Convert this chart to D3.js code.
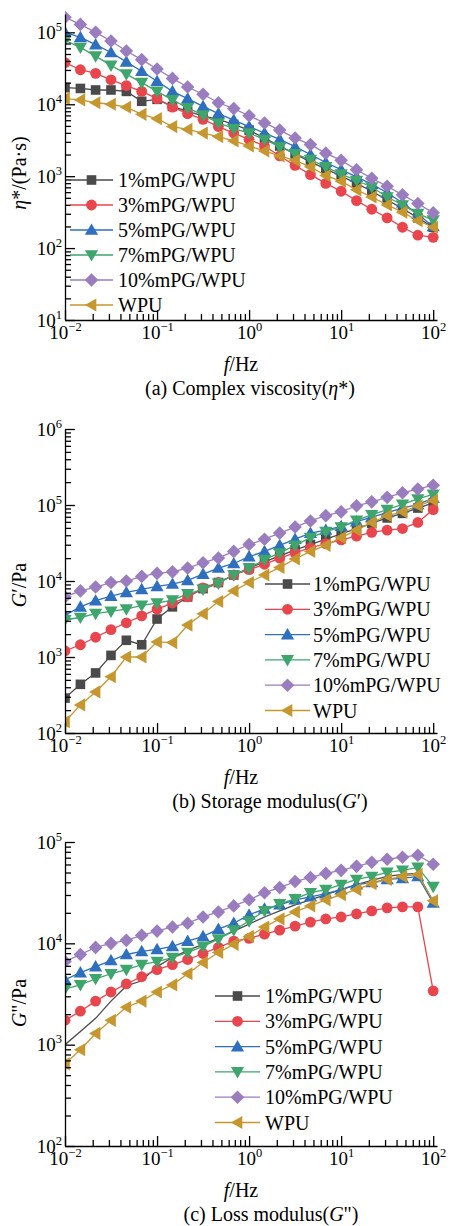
<!DOCTYPE html>
<html>
<head>
<meta charset="utf-8">
<script src="https://cdn.jsdelivr.net/npm/d3@7"></script>
<style>
  body { margin: 0; background: #fff; }
  svg { display: block; font-family: "Liberation Serif", "Times New Roman", serif; }
</style>
</head>
<body>
<svg id="chart" width="450" height="1226"></svg>
<script>
// Frequency sweep (Hz), 6 points per decade
const freq = [0.01, 0.0147, 0.0215, 0.0316, 0.0464, 0.0681,
              0.1, 0.147, 0.215, 0.316, 0.464, 0.681,
              1, 1.47, 2.15, 3.16, 4.64, 6.81,
              10, 14.7, 21.5, 31.6, 46.4, 68.1, 100];

const seriesNames = ["1%mPG/WPU", "3%mPG/WPU", "5%mPG/WPU", "7%mPG/WPU", "10%mPG/WPU", "WPU"];

// (a) complex viscosity, Pa·s — one row per series, same order as seriesNames
const eta = [
  [17000, 16600, 15800, 15800, 15100, 11000, 11700, 9330, 7940, 6920, 6170, 5250, 4370, 3390, 2630, 2040, 1580, 1260, 1000, 794, 617, 468, 355, 263, 195],
  [38000, 30200, 26900, 21900, 18200, 15100, 12000, 9120, 7410, 6170, 4900, 3980, 3240, 2630, 1910, 1410, 1050, 794, 617, 457, 347, 263, 195, 151, 141],
  [100000, 85100, 67600, 52500, 38900, 28800, 20900, 15100, 12000, 9330, 7410, 6030, 4900, 3980, 3240, 2570, 2000, 1550, 1230, 977, 776, 589, 427, 295, 200],
  [77600, 61700, 46800, 34700, 26300, 20000, 15100, 11500, 8910, 7080, 5500, 4570, 3980, 3240, 2570, 2040, 1700, 1350, 1070, 871, 708, 513, 398, 302, 245],
  [162000, 129000, 100000, 75900, 55000, 41700, 30900, 22900, 17400, 13800, 10500, 8710, 6920, 5500, 4370, 3390, 2750, 2090, 1660, 1230, 933, 724, 550, 417, 309],
  [12000, 11500, 10500, 10000, 9120, 7240, 6310, 4900, 4470, 3980, 3550, 3090, 2630, 2240, 1910, 1660, 1350, 1020, 851, 646, 513, 398, 316, 240, 195]
];

// (b) storage modulus G', Pa
const gPrime = [
  [288, 437, 617, 1050, 1660, 1450, 3160, 4570, 6170, 7940, 9550, 12000, 14800, 17800, 21400, 25700, 30200, 35500, 41700, 49000, 57500, 67600, 77600, 91200, 107000],
  [1200, 1450, 1820, 2290, 2820, 3470, 4270, 5130, 6170, 8130, 9550, 12000, 14100, 16600, 20000, 23400, 27500, 30900, 34700, 38900, 43700, 46800, 49000, 58900, 87100],
  [3550, 4570, 5500, 6310, 7080, 7760, 8510, 9120, 10200, 12300, 14800, 17000, 20900, 24500, 29500, 35500, 42700, 46800, 52500, 60300, 69200, 79400, 91200, 102000, 123000],
  [3090, 3310, 3720, 3980, 4270, 4790, 5130, 5620, 6760, 7760, 9330, 12000, 14800, 19100, 23400, 29500, 37200, 44700, 51300, 63100, 74100, 87100, 102000, 120000, 138000],
  [6170, 7410, 8320, 9550, 10000, 11500, 12600, 13200, 14800, 17400, 20000, 24500, 30200, 35500, 42700, 51300, 61700, 72400, 81300, 97700, 110000, 126000, 145000, 162000, 182000],
  [141, 234, 347, 550, 1000, 1000, 1580, 1550, 2630, 3720, 5370, 7410, 9550, 12000, 15100, 19500, 24500, 29500, 37200, 46800, 58900, 72400, 81300, 97700, 115000]
];

// (c) loss modulus G", Pa
const gDouble = [
  [1000, 1350, 1820, 2690, 3800, 4270, 5890, 7240, 8510, 9770, 11200, 13200, 15500, 18200, 20900, 24000, 26900, 30200, 33900, 38000, 41700, 45700, 47900, 49000, 25700],
  [1740, 2140, 2690, 3310, 3980, 4680, 5500, 6170, 6920, 7940, 9120, 10500, 11200, 12300, 13500, 14800, 16200, 17400, 18200, 19500, 20900, 22400, 22900, 22900, 3390],
  [4370, 5130, 5890, 6760, 7760, 8320, 8710, 9330, 10500, 11700, 13800, 15800, 19100, 21900, 24000, 26900, 28800, 30900, 33900, 38000, 39800, 42700, 43700, 45700, 25100],
  [3550, 3890, 4470, 5010, 5500, 6170, 6610, 7240, 8130, 9330, 11000, 13500, 16600, 20900, 24500, 27500, 31600, 33900, 38000, 42700, 45700, 50100, 52500, 56200, 36300],
  [6610, 7760, 9120, 10000, 10700, 12000, 13200, 14500, 15800, 18200, 20400, 23400, 26900, 31600, 35500, 40700, 44700, 49000, 52500, 57500, 63100, 67600, 70800, 74100, 60300],
  [646, 891, 1290, 1740, 2340, 2690, 3310, 3890, 5010, 6460, 8130, 9770, 11700, 14500, 17400, 20400, 23400, 26900, 30200, 33900, 38900, 42700, 45700, 47900, 26300]
];

const xMajor = [0.01, 0.1, 1, 10, 100];

const colors = ["#4a4a4a", "#e8454c", "#2e6fbf", "#3ea56c", "#9a7dbf", "#c6962f"];
const shapes = ["square", "circle", "triUp", "triDown", "diamond", "triLeft"];

function markerPath(type) {
  switch (type) {
    case "square": return "M-4.8,-4.8h9.6v9.6h-9.6z";
    case "circle": return "M5.4,0A5.4,5.4 0 1 1 -5.4,0A5.4,5.4 0 1 1 5.4,0Z";
    case "triUp": return "M0,-6.6L6.6,4.8L-6.6,4.8Z";
    case "triDown": return "M0,6.6L6.6,-4.8L-6.6,-4.8Z";
    case "diamond": return "M0,-6.8L6.8,0L0,6.8L-6.8,0Z";
    case "triLeft": return "M-6.6,0L4.8,-6.6L4.8,6.6Z";
  }
}

const panels = [
  { data: eta, yDomain: [10, 1.8e5], yRange: [320, 14],
    yLabel: [["η", true], ["*/(Pa·s)", false]], yLabelY: 173,
    caption: [["(a) Complex viscosity(", false], ["η", true], ["*)", false]], captionX: 250,
    legend: { x0: 70, x1: 113, tx: 118, y: 180, dy: 25 }, noMarker: [] },
  { data: gPrime, yDomain: [100, 1e6], yRange: [733, 429],
    yLabel: [["G", true], ["′/Pa", false]], yLabelY: 585,
    caption: [["(b) Storage modulus(", false], ["G", true], ["′)", false]], captionX: 270,
    legend: { x0: 265, x1: 310, tx: 313, y: 584, dy: 25.3 }, noMarker: [] },
  { data: gDouble, yDomain: [100, 1e5], yRange: [1146, 842],
    yLabel: [["G", true], ["\"/Pa", false]], yLabelY: 1003,
    caption: [["(c) Loss modulus(", false], ["G", true], ["\")", false]], captionX: 271,
    legend: { x0: 215, x1: 260, tx: 265, y: 996, dy: 25.3 }, noMarker: [0] }
];

const svg = d3.select("#chart");
const xRange = [65, 437];

function isDecade(v) {
  const l = Math.log10(v);
  return Math.abs(l - Math.round(l)) < 1e-6;
}

function powLabel(sel, d) {
  const e = Math.round(Math.log10(d));
  sel.text(null);
  sel.append("tspan").text("10");
  sel.append("tspan").attr("font-size", 12.5).attr("dy", -8)
    .text(e < 0 ? "−" + (-e) : e);
}

function addRich(sel, parts) {
  parts.forEach(([t, it]) => {
    const s = sel.append("tspan").text(t);
    if (it) s.attr("font-style", "italic");
  });
}

function styleAxis(g) {
  g.attr("color", "#000").attr("font-family", null).attr("font-size", 19);
  g.selectAll("line, path").attr("stroke-width", 1.3);
}

panels.forEach((p, pi) => {
  const x = d3.scaleLog().domain([0.01, 110]).range(xRange);
  const y = d3.scaleLog().domain(p.yDomain).range(p.yRange);
  const g = svg.append("g");
  const base = p.yRange[0];

  const clipId = "clip" + pi;
  svg.append("clipPath").attr("id", clipId)
    .append("rect").attr("x", xRange[0]).attr("y", p.yRange[1] - 20)
    .attr("width", 450 - xRange[0]).attr("height", base - p.yRange[1] + 40);

  const plot = g.append("g").attr("clip-path", `url(#${clipId})`);

  const line = d3.line().x((d, k) => x(freq[k])).y(d => y(d));

  p.data.forEach((vals, i) => {
    plot.append("path")
      .attr("d", line(vals))
      .attr("fill", "none")
      .attr("stroke", colors[i])
      .attr("stroke-width", 1.3);
    if (!p.noMarker.includes(i)) {
      plot.selectAll(null)
        .data(vals)
        .join("path")
        .attr("transform", (d, k) => `translate(${x(freq[k])},${y(d)})`)
        .attr("d", markerPath(shapes[i]))
        .attr("fill", colors[i]);
    }
  });

  // minor ticks
  const xMinor = x.ticks().filter(v => !isDecade(v));
  const yMinor = y.ticks().filter(v => !isDecade(v));
  const yMajor = y.ticks().filter(isDecade);

  g.append("g").attr("transform", `translate(0,${base})`)
    .call(d3.axisBottom(x).tickValues(xMinor).tickSize(-6).tickFormat(""))
    .call(styleAxis).call(a => a.select(".domain").remove());
  g.append("g").attr("transform", `translate(${xRange[0]},0)`)
    .call(d3.axisLeft(y).tickValues(yMinor).tickSize(-6).tickFormat(""))
    .call(styleAxis).call(a => a.select(".domain").remove());

  // major ticks + labels
  g.append("g").attr("transform", `translate(0,${base})`)
    .call(d3.axisBottom(x).tickValues(xMajor).tickSizeInner(-10).tickSizeOuter(0).tickPadding(6))
    .call(styleAxis)
    .call(a => a.selectAll(".tick text").each(function(d) { powLabel(d3.select(this), d); }));
  g.append("g").attr("transform", `translate(${xRange[0]},0)`)
    .call(d3.axisLeft(y).tickValues(yMajor).tickSizeInner(-10).tickSizeOuter(0).tickPadding(3))
    .call(styleAxis)
    .call(a => a.selectAll(".tick text").each(function(d) { powLabel(d3.select(this), d); }));

  // axis titles
  const xl = g.append("text").attr("x", 241).attr("y", base + 51)
    .attr("text-anchor", "middle").attr("font-size", 20);
  addRich(xl, [["f", true], ["/Hz", false]]);

  const yl = g.append("text")
    .attr("transform", `translate(26,${p.yLabelY}) rotate(-90)`)
    .attr("text-anchor", "middle").attr("font-size", 20);
  addRich(yl, p.yLabel);

  const cap = g.append("text").attr("x", p.captionX).attr("y", base + 75)
    .attr("text-anchor", "middle").attr("font-size", 20);
  addRich(cap, p.caption);

  // legend
  const L = p.legend;
  seriesNames.forEach((name, i) => {
    const ly = L.y + i * L.dy;
    g.append("line").attr("x1", L.x0).attr("x2", L.x1).attr("y1", ly).attr("y2", ly)
      .attr("stroke", colors[i]).attr("stroke-width", 1.3);
    g.append("path").attr("transform", `translate(${(L.x0 + L.x1) / 2},${ly})`)
      .attr("d", markerPath(shapes[i])).attr("fill", colors[i]);
    g.append("text").attr("x", L.tx).attr("y", ly + 7).attr("font-size", 20).text(name);
  });
});
</script>
</body>
</html>
